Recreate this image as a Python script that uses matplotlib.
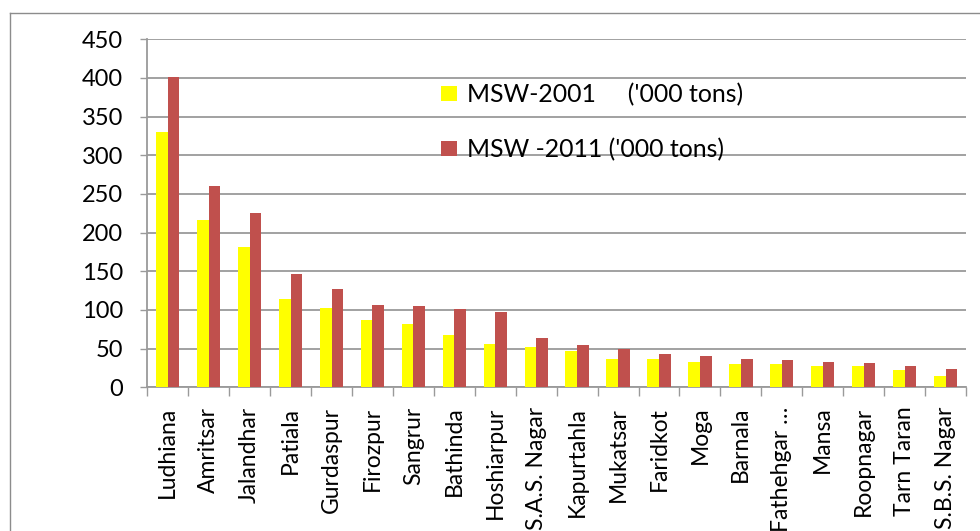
import numpy as np
import matplotlib
matplotlib.use("Agg")
import matplotlib.pyplot as plt
from matplotlib.lines import Line2D
from matplotlib.ticker import FixedLocator, NullFormatter

plt.rcParams['font.family'] = ['Lato', 'DejaVu Sans']

districts = ["Ludhiana", "Amritsar", "Jalandhar", "Patiala", "Gurdaspur",
             "Firozpur", "Sangrur", "Bathinda", "Hoshiarpur", "S.A.S. Nagar",
             "Kapurtahla", "Mukatsar", "Faridkot", "Moga", "Barnala",
             "Fathehgar …", "Mansa", "Roopnagar", "Tarn Taran", "S.B.S. Nagar"]
msw_2001 = [330, 216, 181, 114, 103, 87, 82, 68, 56, 52,
            47, 37, 37, 33, 30, 30, 28, 28, 22, 14]
msw_2011 = [401, 260, 226, 146, 127, 106, 105, 101, 97, 64,
            55, 49, 43, 41, 37, 35, 33, 32, 28, 24]
series_labels = ["MSW-2001     ('000 tons)", "MSW -2011 ('000 tons)"]
y_ticks = [0, 50, 100, 150, 200, 250, 300, 350, 400, 450]

W, H, DPI = 980, 531, 100
fig = plt.figure(figsize=(W / DPI, H / DPI), dpi=DPI)
ax = fig.add_axes([147.3 / W, 1 - 387.3 / H, (966 - 147.3) / W, (387.3 - 39.3) / H])

grid_col = "#9a9a9a"
x = np.arange(len(districts))
bw = 0.285
b1 = ax.bar(x - bw / 2, msw_2001, bw, color="#FFFF00", zorder=3)
b2 = ax.bar(x + bw / 2, msw_2011, bw, color="#C0504D", zorder=3)

ax.set_xlim(-0.5, len(districts) - 0.5)
ax.set_ylim(0, 450)
ax.set_yticks(y_ticks)
ax.yaxis.grid(True, color=grid_col, linewidth=1.3, zorder=0)
ax.set_axisbelow(True)

for s in ("top", "right"):
    ax.spines[s].set_visible(False)
for s in ("left", "bottom"):
    ax.spines[s].set_color(grid_col)
    ax.spines[s].set_linewidth(1.3)

ax.tick_params(axis="y", length=5, width=1.0, color=grid_col, pad=12.5, labelsize=17)
ax.set_xticks(x)
ax.set_xticklabels(districts, rotation=90, fontsize=16.5)
ax.tick_params(axis="x", which="major", length=0, pad=14)
ax.xaxis.set_minor_locator(FixedLocator(np.arange(-0.5, len(districts), 1.0)))
ax.xaxis.set_minor_formatter(NullFormatter())
ax.tick_params(axis="x", which="minor", length=6.3, width=1.0, color=grid_col)

fs = 17.9
fpx = fs * DPI / 72
leg = fig.legend([b1, b2], series_labels, loc="upper left",
                 bbox_to_anchor=(441 / W, 1 - 83 / H), frameon=False,
                 fontsize=fs, borderpad=0, borderaxespad=0,
                 handlelength=15.7 / fpx, handleheight=14 / fpx,
                 handletextpad=10 / fpx, labelspacing=1.28)

# outer chart-area border (top and left edges)
fig.add_artist(Line2D([10 / W, 10 / W], [0, 1 - 12.7 / H], transform=fig.transFigure,
                      color="#8c8c8c", linewidth=1.0))
fig.add_artist(Line2D([10 / W, 1], [1 - 12.7 / H, 1 - 12.7 / H], transform=fig.transFigure,
                      color="#8c8c8c", linewidth=1.0))

fig.savefig("out.png", dpi=DPI)
